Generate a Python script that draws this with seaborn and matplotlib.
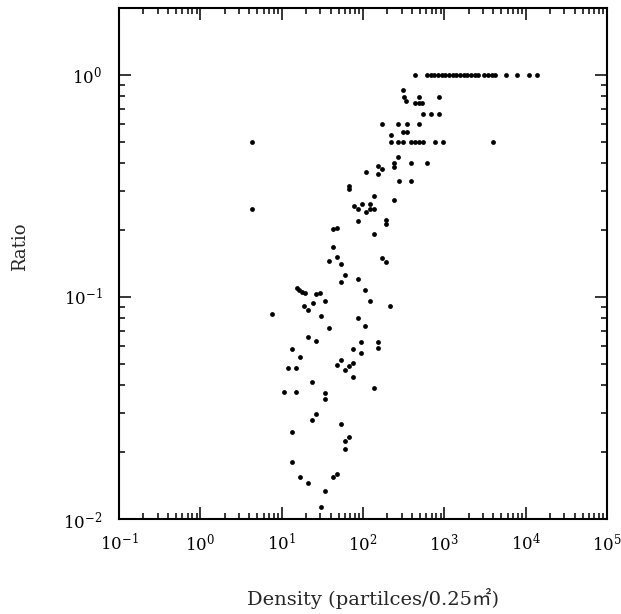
import numpy as np
import pandas as pd
import seaborn as sns
import matplotlib
matplotlib.use("Agg")
import matplotlib.pyplot as plt
from matplotlib.ticker import LogLocator, NullFormatter

# points sitting on ratio = 1
density_top = [437, 610, 676, 752, 834, 925, 1028, 1140, 1265, 1403, 1560, 1730,
               1920, 2133, 2366, 2624, 3090, 3430, 3800, 4220, 5700, 7930, 11040, 13970]
ratio_top = [1.0] * len(density_top)

# everything else
density = [
    309, 320, 339, 486, 871,
    437, 486, 538,
    553, 688, 871,
    173, 272, 346, 486,
    309, 346,
    220,
    4.36, 220, 272, 309, 387, 437, 486, 553, 771, 975, 3910,
    272,
    387, 609, 241, 155, 241, 173, 109, 155,
    276, 387,
    67.5, 67.5,
    137, 241,
    77.1, 86.3, 97.5, 109, 122, 122, 137, 4.3,
    86.3, 192, 192, 43.3, 48.4, 137,
    43.3, 48.0, 37.9, 53.8, 170, 192,
    60.3, 53.8, 86.3, 107, 121, 215,
    15.3, 16.5, 17.7, 19.2, 26.7, 29.9,
    19.0, 21.3, 24.1, 33.9, 7.55, 30.3, 86.3,
    37.9, 107, 21.3, 26.7, 95.5, 152,
    13.5, 76.2, 152, 17.0, 95.5,
    47.6, 53.8, 12.1, 15.2, 60.3, 67.5, 75.5, 75.5,
    23.9, 10.8, 15.2, 33.9, 33.9, 136,
    23.9, 26.7, 53.8, 13.5, 67.5, 60.3, 60.3,
    13.5, 17.0, 21.3, 42.5, 47.6, 33.9, 30.3,
]
ratio = [
    0.856, 0.796, 0.764, 0.798, 0.793,
    0.746, 0.746, 0.746,
    0.665, 0.665, 0.665,
    0.600, 0.600, 0.600, 0.600,
    0.555, 0.555,
    0.537,
    0.5, 0.5, 0.5, 0.5, 0.5, 0.5, 0.5, 0.5, 0.5, 0.5, 0.5,
    0.428,
    0.400, 0.400, 0.400, 0.390, 0.384, 0.376, 0.365, 0.357,
    0.333, 0.333,
    0.316, 0.306,
    0.286, 0.272,
    0.258, 0.249, 0.263, 0.241, 0.263, 0.249, 0.250, 0.250,
    0.219, 0.222, 0.213, 0.202, 0.205, 0.193,
    0.167, 0.152, 0.145, 0.141, 0.150, 0.143,
    0.125, 0.117, 0.1205, 0.107, 0.0957, 0.0914,
    0.1095, 0.107, 0.1057, 0.104, 0.1032, 0.104,
    0.0914, 0.0877, 0.0937, 0.0957, 0.0836, 0.0821, 0.0804,
    0.0727, 0.0743, 0.0663, 0.0636, 0.0627, 0.0627,
    0.0585, 0.0581, 0.0589, 0.0537, 0.0558,
    0.0496, 0.0519, 0.0481, 0.0481, 0.0469, 0.0489, 0.0505, 0.0438,
    0.0415, 0.0373, 0.0373, 0.0371, 0.0348, 0.0388,
    0.0279, 0.0296, 0.0269, 0.0247, 0.0234, 0.0224, 0.0206,
    0.0180, 0.0155, 0.0146, 0.0155, 0.0160, 0.0134, 0.0113,
]

df = pd.DataFrame({"density": density_top + density, "ratio": ratio_top + ratio})

sns.set_style("ticks")
plt.rcParams["font.family"] = ["DejaVu Serif", "Noto Sans CJK JP"]
plt.rcParams["mathtext.fontset"] = "dejavuserif"

fig = plt.figure(figsize=(6.21, 6.14), dpi=100)
ax = fig.add_axes([0.1916, 0.1547, 0.7859, 0.8323])

sns.scatterplot(data=df, x="density", y="ratio", ax=ax, color="black",
                s=12, linewidth=0, legend=False)

ax.set_xscale("log")
ax.set_yscale("log")
ax.set_xlim(0.1, 1e5)
ax.set_ylim(0.01, 2.0)

ax.xaxis.set_major_locator(LogLocator(base=10, numticks=10))
ax.xaxis.set_minor_locator(LogLocator(base=10, subs=np.arange(2, 10), numticks=20))
ax.yaxis.set_minor_locator(LogLocator(base=10, subs=np.arange(2, 10), numticks=20))
ax.xaxis.set_minor_formatter(NullFormatter())
ax.yaxis.set_minor_formatter(NullFormatter())

ax.tick_params(which="both", direction="in", top=True, right=True,
               colors="black", width=1.1)
ax.tick_params(which="major", length=8.5, labelsize=12)
ax.tick_params(which="minor", length=4.3)
ax.tick_params(axis="x", which="major", pad=10)
ax.tick_params(axis="y", which="major", pad=12)

for sp in ax.spines.values():
    sp.set_linewidth(1.5)
    sp.set_color("black")

ax.set_xlabel("Density (partilces/0.25㎡)", fontsize=14)
ax.set_ylabel("Ratio", fontsize=13)
ax.xaxis.set_label_coords(0.52, -0.135)
ax.yaxis.set_label_coords(-0.185, 0.532)

fig.savefig("out.png", dpi=100)
